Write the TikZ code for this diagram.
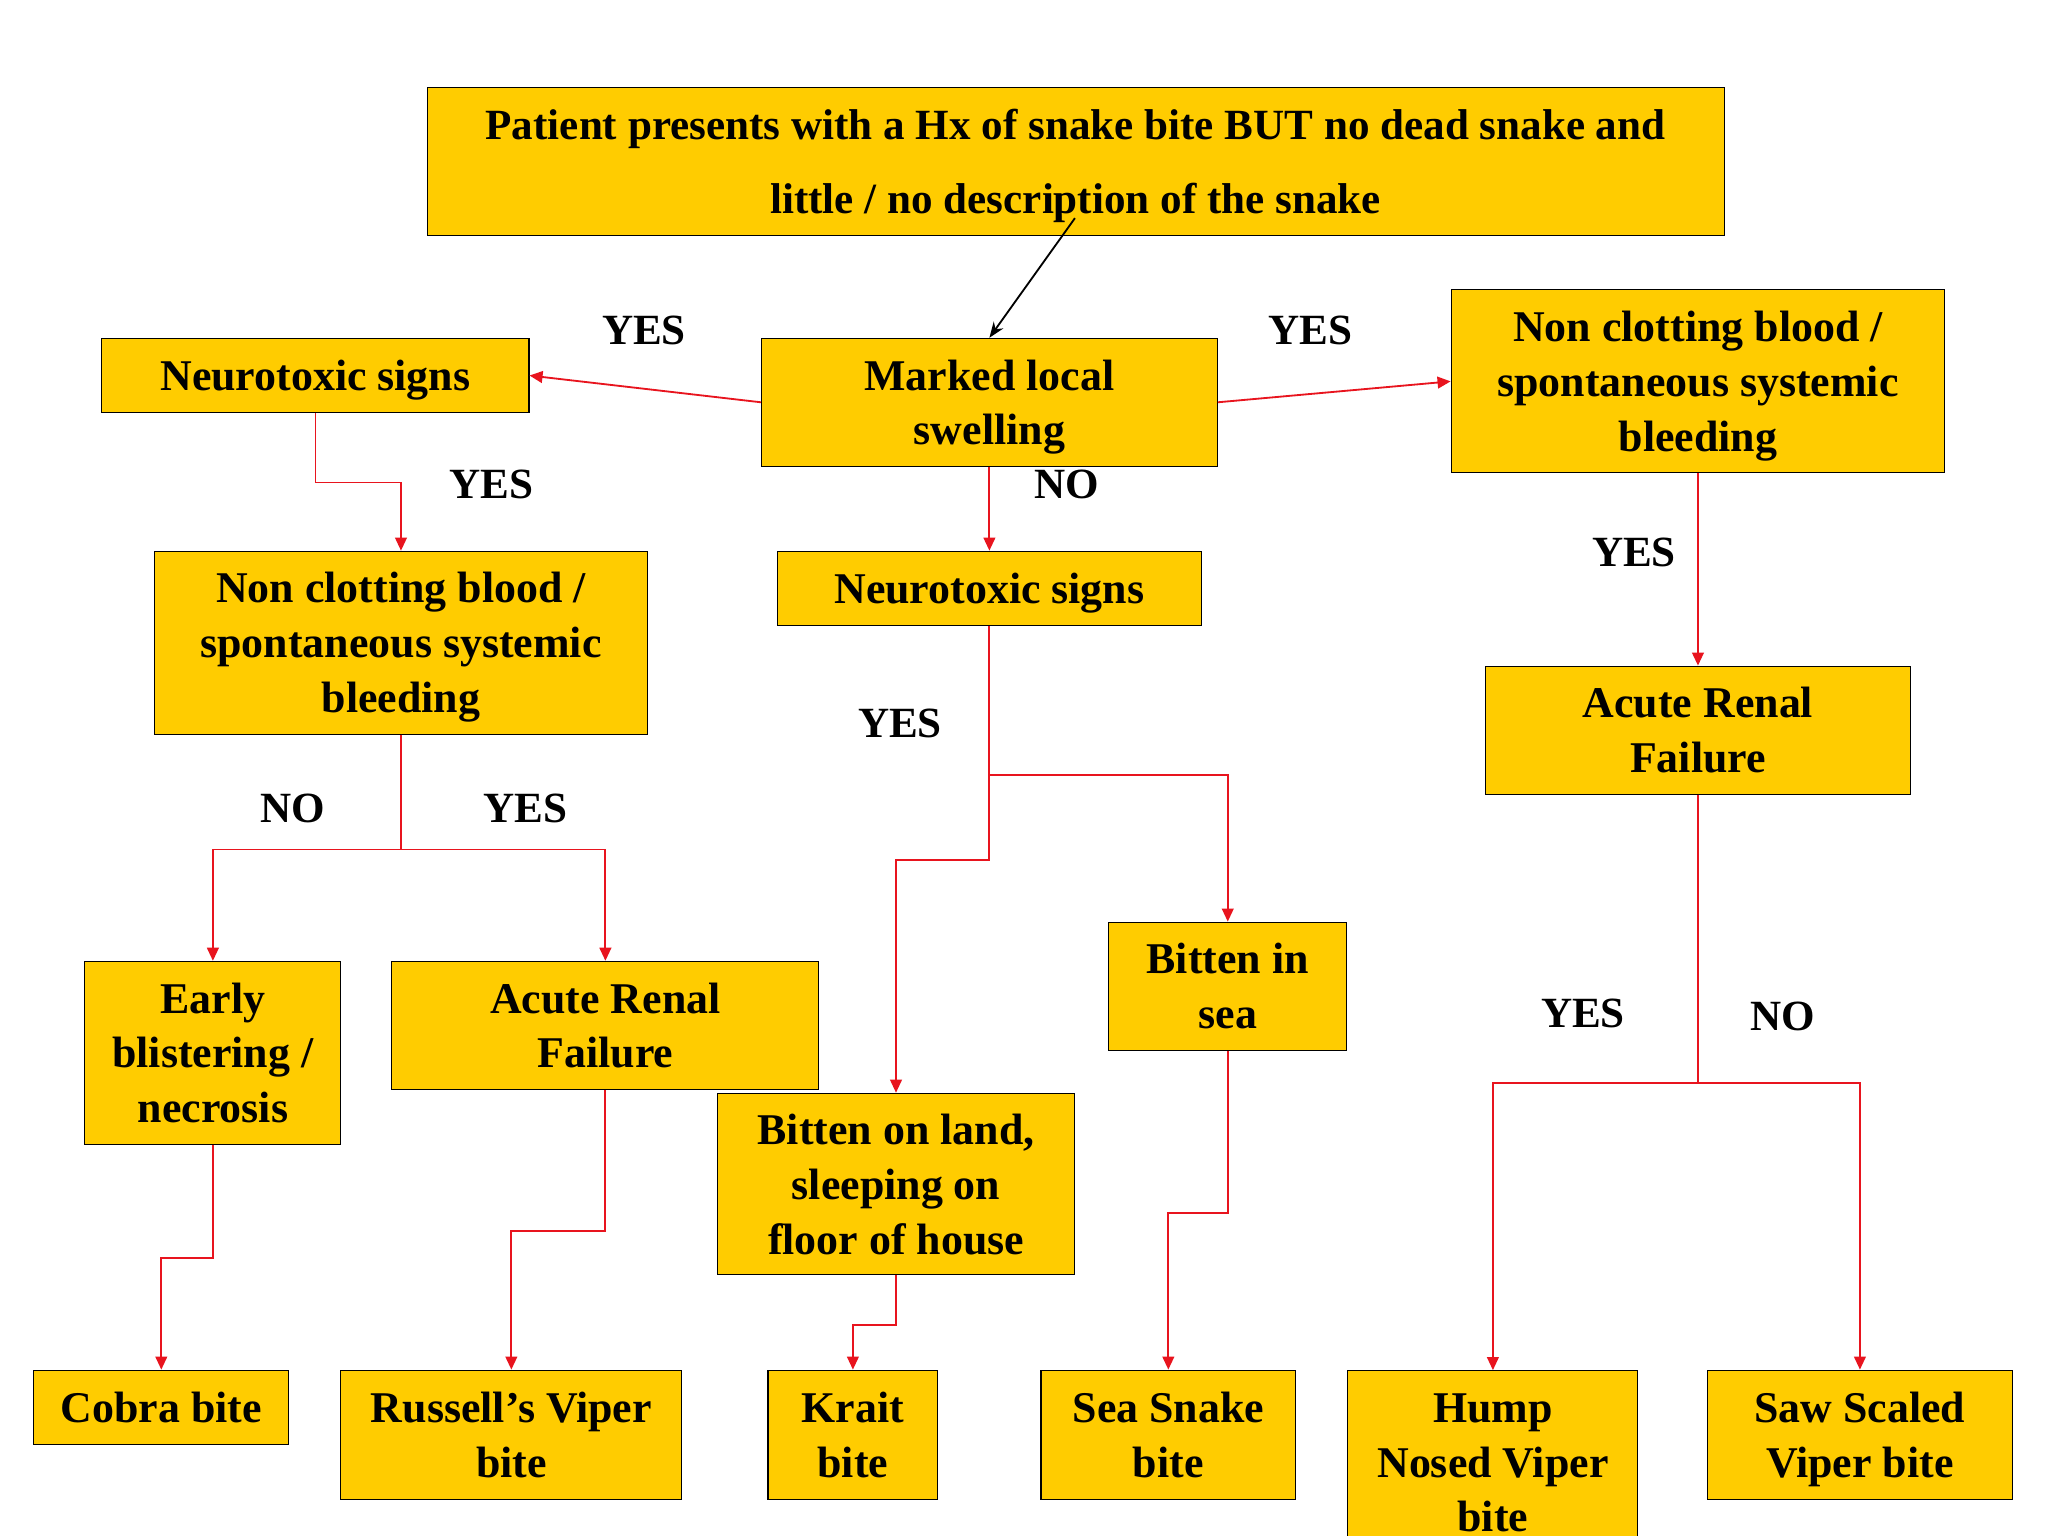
\documentclass[tikz,border=0pt]{standalone}
\usepackage{fontspec}
\setmainfont{Liberation Serif}
\usetikzlibrary{arrows.meta}
\definecolor{boxy}{HTML}{FFCC00}
\definecolor{ln}{HTML}{E8141E}
\tikzset{
  box/.style={draw=black,fill=boxy,align=center,inner sep=0pt,text depth=-1.5pt,font=\fontsize{16.8}{21}\selectfont\bfseries},
  con/.style={draw=ln,-{Triangle[length=5pt,width=4.5pt]},line width=0.7pt},
  lab/.style={font=\fontsize{16.5}{19}\selectfont\bfseries}
}
\newcommand\bx[6]{\node[box,minimum width={(#4-#2)*0.5pt},minimum height={(#5-#3)*0.5pt}] (#1) at ({(#2+#4)/2},{(#3+#5)/2}) {#6};}
\begin{document}
\begin{tikzpicture}[x=0.5pt,y=-0.5pt]
\path[use as bounding box,fill=white] (0,0) rectangle (1568,1176);
\node[box,minimum width=496.5pt,minimum height=56.5pt,font=\fontsize{16.5}{28}\selectfont\bfseries] (top) at (823.5,123.5) {Patient presents with a Hx of snake bite BUT no dead snake and\\little / no description of the snake};
\bx{N1}{78}{259}{405}{316}{Neurotoxic signs}
\bx{M}{583}{259}{932}{357}{Marked local\\swelling}
\bx{R1}{1111}{222}{1489}{362}{Non clotting blood /\\spontaneous systemic\\bleeding}
\bx{L2}{118}{422}{496}{562}{Non clotting blood /\\spontaneous systemic\\bleeding}
\bx{N2}{595}{422}{920}{479}{Neurotoxic signs}
\bx{AR}{1137}{510}{1463}{608}{Acute Renal\\Failure}
\bx{EB}{65}{736}{261}{876}{Early\\blistering /\\necrosis}
\bx{AL}{300}{736}{627}{834}{Acute Renal\\Failure}
\bx{SEA}{849}{706}{1031}{804}{Bitten in\\sea}
\bx{LAND}{549}{837}{823}{976}{Bitten on land,\\sleeping on\\floor of house}
\bx{CB}{26}{1049}{221}{1106}{Cobra bite}
\bx{RV}{261}{1049}{522}{1148}{Russell’s Viper\\bite}
\bx{KR}{588}{1049}{718}{1148}{Krait\\bite}
\bx{SS}{797}{1049}{992}{1148}{Sea Snake\\bite}
\node[box,minimum width=111pt,minimum height=70.5pt,anchor=north] (HN) at (1143,1049) {Hump\\Nosed Viper\\bite};
\bx{SV}{1307}{1049}{1541}{1148}{Saw Scaled\\Viper bite}
\coordinate (t0) at (823,167);
\draw[-{Stealth[length=6pt]},line width=0.7pt] (t0) -- (M.north);
\draw[con] (M.west) -- (N1.east);
\draw[con] (M.east) -- (R1.west);
\draw[con] (N1.south) -- ++(0,53) -| (L2.north);
\draw[con] (M.south) -- (N2.north);
\draw[con] (R1.south) -- (AR.north);
\draw[con] (L2.south) -- ++(0,88) -| (EB.north);
\draw[con] (L2.south) -- ++(0,88) -| (AL.north);
\draw[con] (N2.south) -- ++(0,114) -| (SEA.north);
\draw[con] (N2.south) -- ++(0,179) -| (LAND.north);
\draw[con] (AL.south) -- ++(0,108) -| (RV.north);
\draw[con] (EB.south) -- ++(0,87) -| (CB.north);
\draw[con] (LAND.south) -- ++(0,38) -| (KR.north);
\draw[con] (SEA.south) -- ++(0,124) -| (SS.north);
\draw[con] (AR.south) -- ++(0,221) -| (HN.north);
\draw[con] (AR.south) -- ++(0,221) -| (SV.north);
\node[lab] (y1) at (493,253) {YES};
\node[lab] (y2) at (1003,253) {YES};
\node[lab] (y3) at (376,371) {YES};
\node[lab] (n1) at (817,371) {NO};
\node[lab] (y4) at (1251,423) {YES};
\node[lab] (y5) at (689,554) {YES};
\node[lab] (n2) at (224,619) {NO};
\node[lab] (y6) at (402,619) {YES};
\node[lab] (y7) at (1212,776) {YES};
\node[lab] (n3) at (1365,778) {NO};
\end{tikzpicture}
\end{document}
